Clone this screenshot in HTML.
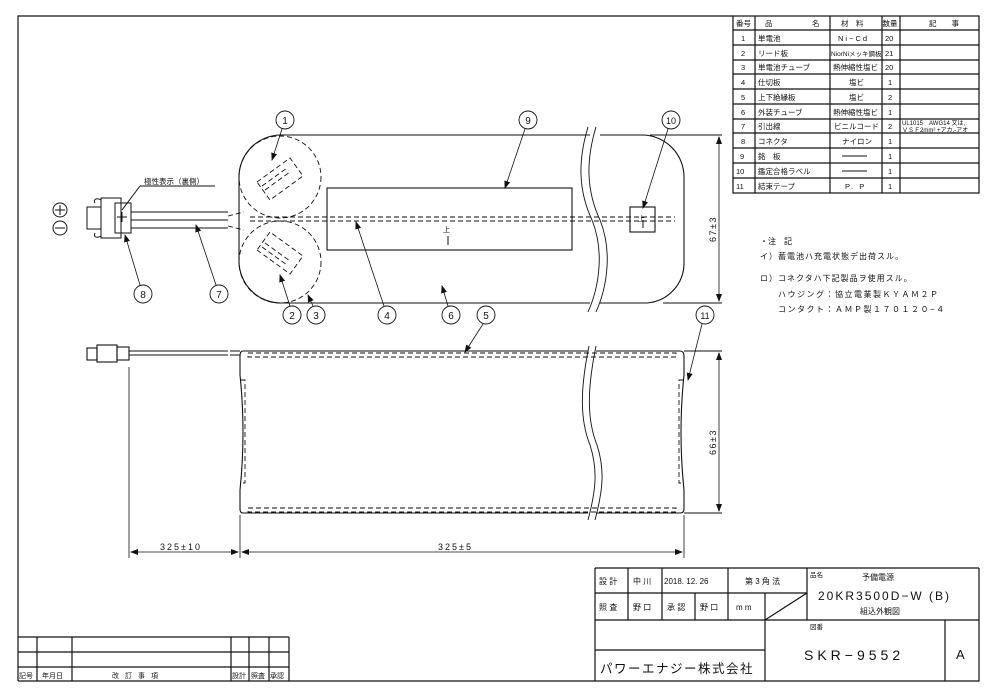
<!DOCTYPE html>
<html><head><meta charset="utf-8"><style>
html,body{margin:0;padding:0;background:#fff;}
svg{display:block;}
text{font-family:"Liberation Sans","Noto Sans CJK JP",sans-serif;fill:#111;}
</style></head><body>
<svg width="995" height="694" viewBox="0 0 995 694" xmlns="http://www.w3.org/2000/svg">
<defs>
<marker id="ar" markerWidth="8" markerHeight="6" refX="7" refY="3" orient="auto" markerUnits="userSpaceOnUse"><path d="M0,0 L8,3 L0,6 z" fill="#111"/></marker>
<marker id="ar2" markerWidth="8" markerHeight="6" refX="7" refY="3" orient="auto-start-reverse" markerUnits="userSpaceOnUse"><path d="M0,0 L8,3 L0,6 z" fill="#111"/></marker>
</defs>
<g stroke="#111" fill="none" stroke-width="1.2">
<path d="M18,681 V16 H733"/>
<path d="M979,568 V681 H18"/>
<rect x="733" y="16" width="246" height="177"/>
<path d="M755,16V193 M830,16V193 M882,16V193 M900,16V193"/>
<path d="M733,30H979 M733,45H979 M733,60H979 M733,74H979 M733,89H979 M733,104H979 M733,119H979 M733,133H979 M733,148H979 M733,163H979 M733,178H979"/>
<path d="M595,568H979 M595,568V681 M595,593H807 M595,620H979 M595,650H765"/>
<path d="M628,568V620 M662,568V620 M728,568V620 M695,593V620 M765,593V681 M807,568V620 M945,620V681 M765,620L807,593"/>
<path d="M18,637H289 M18,652H289 M18,667H289 M289,637V681 M37,637V681 M72,637V681 M231,637V681 M249,637V681 M269,637V681"/>
</g>

<g font-size="7.5">
<text x="736" y="26">番号</text><text x="765" y="26">品</text><text x="812" y="26">名</text>
<text x="841" y="26">材　料</text><text x="882.5" y="26">数量</text><text x="929" y="26">記　　事</text>
<text x="741" y="41">1</text><text x="758" y="41">単電池</text><text x="838" y="41" letter-spacing="2">Ni−Cd</text><text x="885" y="41">20</text>
<text x="741" y="56">2</text><text x="758" y="56">リード板</text><text x="831" y="56" font-size="6.5">NiorNiメッキ鋼板</text><text x="885" y="56">21</text>
<text x="741" y="70">3</text><text x="758" y="70">単電池チューブ</text><text x="833" y="70">熱伸縮性塩ビ</text><text x="885" y="70">20</text>
<text x="741" y="85">4</text><text x="758" y="85">仕切板</text><text x="849" y="85">塩ビ</text><text x="888" y="85">1</text>
<text x="741" y="100">5</text><text x="758" y="100">上下絶縁板</text><text x="849" y="100">塩ビ</text><text x="888" y="100">2</text>
<text x="741" y="115">6</text><text x="758" y="115">外装チューブ</text><text x="833" y="115">熱伸縮性塩ビ</text><text x="888" y="115">1</text>
<text x="741" y="129">7</text><text x="758" y="129">引出線</text><text x="834" y="129">ビニルコード</text><text x="888" y="129">2</text>
<text x="902" y="125" font-size="6">UL1015　AWG14 又は,</text><text x="902" y="132" font-size="6">ＶＳＦ2mm² +アカ,-アオ</text>
<text x="741" y="144">8</text><text x="758" y="144">コネクタ</text><text x="842" y="144">ナイロン</text><text x="888" y="144">1</text>
<text x="740" y="159">9</text><text x="758" y="159">銘　板</text><text x="888" y="159">1</text>
<text x="736" y="174">10</text><text x="758" y="174">鑑定合格ラベル</text><text x="888" y="174">1</text>
<text x="736" y="189">11</text><text x="758" y="189">結束テープ</text><text x="845" y="189" letter-spacing="2">P. P</text><text x="888" y="189">1</text>
</g>
<path d="M842,156H867 M842,171H867" stroke="#111" stroke-width="1"/>

<g font-size="8">
<text x="760" y="244">・注　記</text>
<text x="760" y="259" letter-spacing="1">イ）蓄電池ハ充電状態デ出荷スル。</text>
<text x="760" y="281" letter-spacing="1">ロ）コネクタハ下記製品ヲ使用スル。</text>
<text x="778" y="297" letter-spacing="1.5">ハウジング：協立電業製ＫＹＡＭ２Ｐ</text>
<text x="778" y="312" letter-spacing="1.5">コンタクト：ＡＭＰ製１７０１２０−４</text>
</g>

<g font-size="8">
<text x="599" y="584">設 計</text><text x="633" y="584">中 川</text><text x="664" y="584">2018. 12. 26</text><text x="745" y="584">第 3 角 法</text>
<text x="599" y="610">照 査</text><text x="633" y="610">野 口</text><text x="667" y="610">承 認</text><text x="700" y="610">野 口</text><text x="736" y="610">m m</text>
<text x="810" y="577" font-size="6.5">品名</text><text x="862" y="580">予備電源</text>
<text x="810" y="629" font-size="6.5">図番</text>
<text x="860" y="614">組込外観図</text>
</g>
<text x="818" y="600" font-size="12" letter-spacing="2">20KR3500D−W (B)</text>
<text x="804" y="660" font-size="14" letter-spacing="4">SKR−9552</text>
<text x="956" y="659" font-size="13">A</text>
<text x="600" y="673" font-size="12.5" letter-spacing="1.5">パワーエナジー株式会社</text>

<g font-size="7">
<text x="19" y="678">記号</text><text x="42" y="678">年月日</text><text x="112" y="678" letter-spacing="6">改訂事項</text>
<text x="232" y="678">設計</text><text x="251" y="678">照査</text><text x="270" y="678">承認</text>
</g>

<g stroke="#111" fill="none" stroke-width="1.1">
<path d="M281,135 H590 M600,135 H642 A42,42 0 0 1 684,177 V263 A40,40 0 0 1 647,303 H600 M590,303 H281 A42,42 0 0 1 239,261 V177 A42,42 0 0 1 281,135"/>
<path d="M663,303 H722 M650,135 H722"/>
<path d="M588,127 C578,160 578,190 592,220 C604,250 600,285 588,312" stroke-width="0.9"/>
<path d="M596,127 C586,160 586,190 600,220 C612,250 608,285 596,312" stroke-width="0.9"/>
<rect x="327" y="188" width="245" height="62"/>
<rect x="630" y="207" width="25" height="25"/>
</g>
<g stroke="#111" fill="none" stroke-width="0.9" stroke-dasharray="5,3">
<circle cx="280" cy="177" r="41"/>
<circle cx="280" cy="262" r="41"/>
<path d="M250,217 H675 M250,221 H675"/>
<path d="M257,182 L290,158 L303,176 L270,200 Z M265,190 L290,172 M262,186 L287,168"/>
<path d="M257,250 L290,274 L303,256 L270,232 Z M265,243 L290,261 M262,247 L287,265"/>
<path d="M228,216 L244,212 M228,226 L244,230"/>
</g>
<g stroke="#111" fill="none" stroke-width="1">
<rect x="87" y="207" width="14" height="22"/>
<rect x="101" y="198" width="20" height="40"/>
<rect x="115" y="203" width="16" height="30"/>
<path d="M101,200 c-5,-3 -8,0 -6,3 M101,236 c-5,3 -8,0 -6,-3"/>
<path d="M131,212 H228 M131,220 H228 M131,228 H228"/>
<path d="M122,212 V222 M117,217 H127"/>
<path d="M140,186 H215 M140,186 L122,210"/>
</g>
<text x="144" y="184" font-size="7.5">極性表示（裏側）</text>
<g stroke="#111" fill="none" stroke-width="1"><circle cx="60" cy="210" r="7"/><path d="M55,210H65M60,205V215"/><circle cx="60" cy="228" r="7"/><path d="M55,228H65"/></g>
<g font-size="7" stroke="none"><text x="443" y="232">上</text><text x="638" y="221">上</text></g>
<path d="M448,245V236 M643,228V220" stroke="#111" stroke-width="1"/>
<g stroke="#111" fill="#fff" stroke-width="0.9">
<circle cx="285" cy="120" r="9"/><circle cx="528" cy="120" r="9"/><circle cx="671" cy="120" r="9"/>
<circle cx="143" cy="294" r="9"/><circle cx="219" cy="294" r="9"/><circle cx="292" cy="315" r="9"/><circle cx="316" cy="315" r="9"/>
<circle cx="387" cy="315" r="9"/><circle cx="451" cy="315" r="9"/><circle cx="486" cy="315" r="9"/><circle cx="705" cy="315" r="9"/>
</g>
<g font-size="10" text-anchor="middle">
<text x="285" y="124">1</text><text x="528" y="124">9</text><text x="671" y="124" font-size="9">10</text>
<text x="143" y="298">8</text><text x="219" y="298">7</text><text x="292" y="319">2</text><text x="316" y="319">3</text>
<text x="387" y="319">4</text><text x="451" y="319">6</text><text x="486" y="319">5</text><text x="705" y="319" font-size="9">11</text>
</g>
<g stroke="#111" stroke-width="0.8" fill="none" marker-end="url(#ar)">
<path d="M282,129 L272,160"/><path d="M525,129 L505,188"/><path d="M668,129 L643,208"/>
<path d="M140,285 L125,235"/><path d="M216,285 L196,225"/><path d="M290,306 L280,275"/><path d="M313,306 L308,295"/>
<path d="M384,306 L356,222"/><path d="M448,306 L442,286"/><path d="M483,324 L465,352"/><path d="M702,324 L688,380"/>
</g>
<path d="M719,137 V301" stroke="#111" stroke-width="0.8" marker-start="url(#ar2)" marker-end="url(#ar)"/>
<text x="0" y="0" font-size="9" transform="translate(716,242) rotate(-90)" letter-spacing="1.5">67±3</text>

<g stroke="#111" fill="none" stroke-width="1.1">
<path d="M243,351 H588 M596,351 H680 Q684,351 684,356 V375 Q678,432 684,490 V509 Q684,513 680,513 H596 M588,513 H243 Q240,513 240,509 V490 Q246,432 240,375 V356 Q240,351 243,351"/>
<path d="M684,351 H722 M684,513 H722"/>
<path d="M589,346 C580,390 580,420 590,445 C598,470 596,490 588,520" stroke-width="0.9"/>
<path d="M596,346 C587,390 587,420 597,445 C605,470 603,490 595,520" stroke-width="0.9"/>
<rect x="87" y="348" width="10" height="12"/><rect x="97" y="345" width="20" height="17"/><rect x="117" y="347" width="12" height="13"/>
<path d="M129,351 H228 M129,355 H228 M230,351 H240 M230,355 H240"/>
</g>
<g stroke="#111" fill="none" stroke-width="0.9" stroke-dasharray="5,3">
<rect x="248" y="353" width="428" height="4"/><rect x="248" y="508" width="428" height="4"/>
<path d="M241,380 H245 V483 H241 M683,380 H679 V483 H683"/>
</g>
<g stroke="#111" stroke-width="0.8" fill="none">
<path d="M129,367 V558 M240,515 V558 M684,515 V558"/>
<path d="M131,552 H238" marker-start="url(#ar2)" marker-end="url(#ar)"/>
<path d="M242,552 H682" marker-start="url(#ar2)" marker-end="url(#ar)"/>
<path d="M719,353 V511" marker-start="url(#ar2)" marker-end="url(#ar)"/>
</g>
<text x="160" y="550" font-size="9" letter-spacing="2">325±10</text>
<text x="438" y="550" font-size="9" letter-spacing="2">325±5</text>
<text x="0" y="0" font-size="9" transform="translate(716,455) rotate(-90)" letter-spacing="1.5">66±3</text>
</svg>
</body></html>
